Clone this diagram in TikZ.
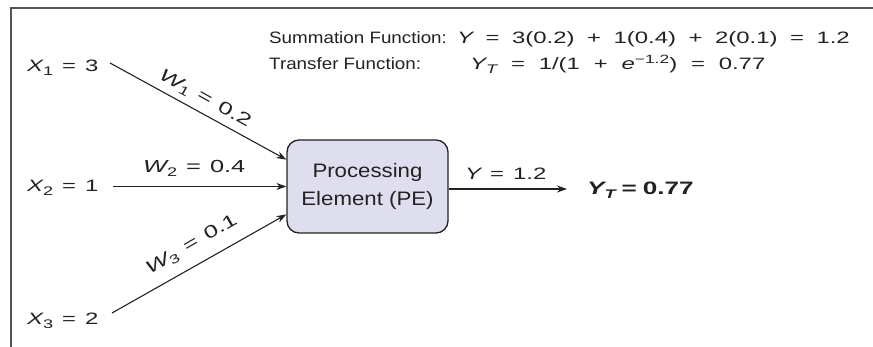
\documentclass[tikz,border=0pt]{standalone}
\usepackage{fontspec}
\setmainfont[FakeStretch=1.14]{Liberation Sans}
\newfontfamily\nf[FakeStretch=1.45]{Liberation Sans}
\usetikzlibrary{arrows.meta,calc}
\definecolor{ink}{RGB}{34,34,34}
\definecolor{framec}{RGB}{85,85,85}
\definecolor{pefill}{RGB}{222,222,238}
\newcommand\gp{\hspace{9pt}}
\newcommand\gw{\hspace{12.5pt}}
\newcommand\gt{\hspace{13.8pt}}
\newcommand\vr[1]{{\itshape #1}}
\newcommand\lo[1]{\raisebox{-3.4pt}{\fontsize{12.5}{13}\selectfont #1}}
\newcommand\hi[1]{\raisebox{6pt}{\fontsize{12}{13}\selectfont #1}}
\begin{document}
\begin{tikzpicture}[x=1pt,y=-1pt,
  txt/.style={inner sep=0pt, text=ink, font=\fontsize{16.5}{20}\selectfont},
  num/.style={inner sep=0pt, text=ink, font=\nf\fontsize{16.5}{20}\selectfont},
  wlab/.style={inner sep=0pt, text=ink, font=\nf\fontsize{17.5}{20}\selectfont},
  arr/.style={draw=ink, line width=1.1pt, -{Stealth[length=10pt,width=7pt]}},
  pebox/.style={draw=ink, line width=1.3pt, fill=pefill, rounded corners=12pt,
    minimum width=161pt, minimum height=93pt, align=center, text=ink,
    inner sep=0pt, font=\fontsize{19.5}{28}\selectfont}]
\useasboundingbox (0,0) rectangle (873,347);
% frame
\draw[framec, line width=1.5pt] (11,347) -- (11,8) -- (873,8);
% top formulas
\node[txt, anchor=base west] (sumlab) at (269,43.3) {Summation Function:};
\node[num, anchor=base west] (sumeq) at (457,43.3) {\vr{Y}\gw=\gw3(0.2)\gw+\gw1(0.4)\gw+\gw2(0.1)\gw=\gw1.2};
\node[txt, anchor=base west] (trlab) at (269,70) {Transfer Function:};
\node[num, anchor=base west] (treq) at (470,70) {\vr{Y}\lo{\vr{T}}\gt=\gt1/(1\gt+\gt\vr{e}\hi{−1.2})\gt=\gt0.77};
% inputs
\node[num, anchor=base west] (x1) at (27,72) {\vr{X}\lo{1}\gp=\gp3};
\node[num, anchor=base west] (x2) at (27,192) {\vr{X}\lo{2}\gp=\gp1};
\node[num, anchor=base west] (x3) at (27,325) {\vr{X}\lo{3}\gp=\gp2};
\coordinate (s1) at (110,63);
\coordinate (s2) at (113,186.5);
\coordinate (s3) at (112,313);
% processing element
\node[pebox] (pe) at (367.5,186.5) {Processing\\Element (PE)};
\coordinate (e1) at ($(pe.north west)!0.215!(pe.south west)$);
\coordinate (e3) at ($(pe.north west)!0.796!(pe.south west)$);
% connectors
\draw[arr] (s1) -- (e1);
\draw[arr] (s2) -- (pe.west);
\draw[arr] (s3) -- (e3);
\node[wlab, rotate=-29] (w1) at (205,99) {\vr{W}\lo{1}\gp=\gp0.2};
\node[wlab, anchor=base west] (w2) at (143,173) {\vr{W}\lo{2}\gp=\gp0.4};
\node[wlab, rotate=29.8] (w3) at (192,245) {\vr{W}\lo{3}\gp=\gp0.1};
% output
\coordinate (o) at (567,189);
\draw[arr] (pe.east |- o) -- (o);
\node[num, anchor=base west] (ylab) at (465,179.3) {\vr{Y}\gp=\gp1.2};
\node[num, anchor=base west, font=\nf\bfseries\fontsize{18}{20}\selectfont] (yt) at (587,195) {\vr{Y}\lo{\vr{T}}\hspace{6pt}=\hspace{6pt}0.77};
\end{tikzpicture}
\end{document}
